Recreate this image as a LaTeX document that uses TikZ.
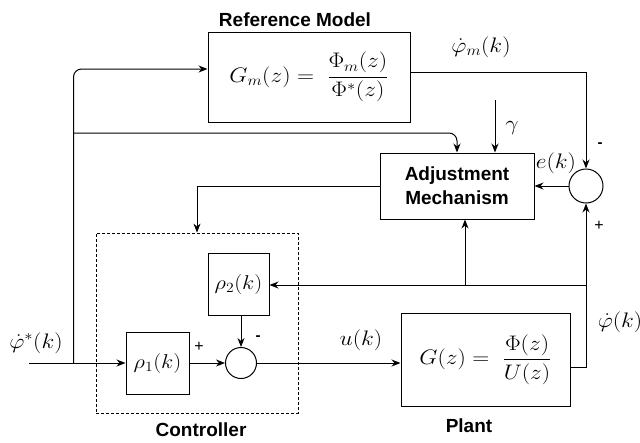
\RequirePackage{fix-cm}
\documentclass[tikz,border=0pt]{standalone}
\usepackage[no-math]{fontspec}
\newfontfamily\lab{Liberation Sans}
\usetikzlibrary{arrows.meta}
% wide math, a little stretched horizontally
\newcommand{\wm}[1]{\scalebox{1.12}[1]{#1}}
\begin{document}
\begin{tikzpicture}[x=1pt,y=-1pt,
  line width=1pt,
  blk/.style={draw, line width=1pt, inner sep=0pt},
  sumc/.style={draw, circle, line width=1pt, inner sep=0pt},
  arr/.style={-{Stealth[length=9pt,width=7pt]}},
  lbl/.style={font=\lab\bfseries\fontsize{19}{24}\selectfont, align=center, inner sep=0pt},
  mth/.style={font=\fontsize{21}{24}\selectfont, inner sep=0pt},
  bmth/.style={font=\fontsize{21}{26}\selectfont},
  sgn/.style={font=\lab\fontsize{16}{17}\selectfont, inner sep=0pt},
  msgn/.style={font=\lab\bfseries\fontsize{15}{17}\selectfont, inner sep=0pt}]
\useasboundingbox (0,0) rectangle (640,442);

% blocks
\node[blk, minimum width=202, minimum height=90, bmth] (ref) at (309,77)
  {\wm{$\displaystyle G_m(z) = \;\frac{\Phi_m(z)}{\Phi^*(z)}$}};
\node[blk, minimum width=154, minimum height=66, lbl] (adj) at (457,186)
  {Adjustment\\Mechanism};
\node[blk, minimum width=169, minimum height=93, bmth] (plant) at (485.5,359.5)
  {\wm{$\displaystyle G(z) = \;\frac{\Phi(z)}{U(z)}$}};
\node[blk, minimum width=61, minimum height=62, mth] (rho2) at (238.5,284)
  {\fontsize{20}{24}\selectfont\wm{$\rho_2(k)$}};
\node[blk, minimum width=63, minimum height=62, mth] (rho1) at (157.5,363)
  {\fontsize{20}{24}\selectfont\wm{$\rho_1(k)$}};
\node[sumc, minimum size=34] (s1) at (586,186) {};
\node[sumc, minimum size=31] (s2) at (241,363) {};
\node[draw, dashed, dash pattern=on 3pt off 2pt, line width=0.8pt,
  minimum width=202, minimum height=180] (ctrl) at (197,323) {};

% titles
\node[lbl] (tref) at (295,20) {Reference Model};
\node[lbl] (tctrl) at (201,430) {Controller};
\node[lbl] (tplant) at (469,426) {Plant};

% signal labels
\node[mth] (lphim) at (481,47) {\wm{$\dot\varphi_m(k)$}};
\node[mth] (lgam) at (512,128) {\wm{$\gamma$}};
\node[mth] (le) at (556,163) {\wm{$e(k)$}};
\node[mth] (lin) at (36,343) {\wm{$\dot\varphi^*(k)$}};
\node[mth] (lu) at (361,340) {\wm{$u(k)$}};
\node[mth] (lphi) at (620,322) {\wm{$\dot\varphi(k)$}};
\node[msgn] (m1) at (600,145) {-};
\node[sgn] (p1) at (599,226) {+};
\node[sgn] (p2) at (199,347) {+};
\node[msgn] (m2) at (258,338) {-};

% auxiliary points
\coordinate (in) at (29,363);
\coordinate (j) at (73.5,363);
\coordinate (jt) at (73.5,133);
\coordinate (g0) at (495,100);
\coordinate (fb) at (586,285);
\coordinate (br) at (465,285);

% connectors
\draw[arr] (in) -- (rho1.west);
\draw[arr, rounded corners=8pt] (j) |- ([yshift=8pt]ref.west);
\draw[arr, rounded corners=8pt] (jt) -| (adj.north);
\draw[arr] (g0) -- (g0 |- adj.north);
\draw[arr] ([yshift=5pt]ref.east) -| (s1.north);
\draw[arr] (s1.west) -- (adj.east);
\draw[arr] (adj.west) -| (ctrl.north);
\draw[arr] ([yshift=-7.5pt]plant.east) -| (s1.south);
\draw[arr] (fb) -- (fb -| rho2.east);
\draw[arr] (br) -- (br |- adj.south);
\draw[arr] (s2.north |- rho2.south) -- (s2.north);
\draw[arr] (rho1.east) -- (s2.west);
\draw[arr] (s2.east) -- (s2.east -| plant.west);
\end{tikzpicture}
\end{document}
